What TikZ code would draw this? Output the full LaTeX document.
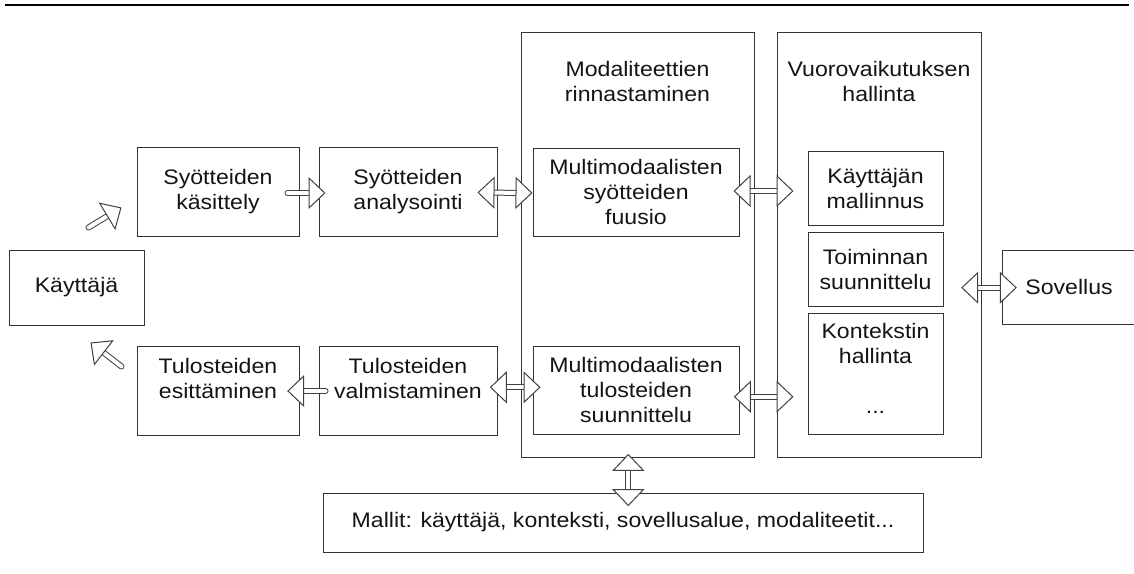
\documentclass[tikz,border=0pt]{standalone}
\usepackage{fontspec}
\setmainfont{Liberation Sans}[FakeStretch=1.1]
\usetikzlibrary{arrows.meta}

\tikzset{
  lbl/.style={inner sep=0pt, align=center, text=black!92,
              font=\fontsize{21}{25}\selectfont},
  box/.style={lbl, draw=black!80, line width=1pt},
  hollow/.style={draw=black!75, line width=1pt, double=white,
                 double distance=4pt, line cap=round},
  fwd/.style={hollow, -{Triangle[fill=white, length=17pt, width=32pt, line width=1pt]}},
  both/.style={hollow, {Triangle[fill=white, length=17pt, width=32pt, line width=1pt]}-{Triangle[fill=white, length=17pt, width=32pt, line width=1pt]}},
}

\begin{document}
\begin{tikzpicture}[x=1pt, y=-1pt]
  \clip (0,0) rectangle (1134,573);

  % header rule
  \draw[line width=2pt, black] (5,5) -- (1129,5);

  % user
  \node[box, minimum width=135pt, minimum height=75pt] (usr) at (76.5,287.5) {Käyttäjä};

  % input chain
  \node[box, minimum width=162pt, minimum height=89pt] (kas) at (218,191.5) {Syötteiden\\käsittely};
  \node[box, minimum width=178pt, minimum height=89pt] (ana) at (408,191.5) {Syötteiden\\analysointi};

  % output chain
  \node[box, minimum width=162pt, minimum height=89pt] (esi) at (218,390.5) {};
  \node[lbl] (esi-t) at ([yshift=12.5pt]esi.center) {Tulosteiden\\esittäminen};
  \node[box, minimum width=178pt, minimum height=89pt] (val) at (408,390.5) {};
  \node[lbl] (val-t) at ([yshift=12.5pt]val.center) {Tulosteiden\\valmistaminen};

  % modality integration
  \node[box, minimum width=233pt, minimum height=425pt] (mod) at (637.5,244.5) {};
  \node[lbl] (mod-t) at (637.5,81) {Modaliteettien\\rinnastaminen};
  \node[box, minimum width=206pt, minimum height=88pt] (fus) at (636,192) {Multimodaalisten\\syötteiden\\fuusio};
  \node[box, minimum width=206pt, minimum height=88pt] (sun) at (636,390) {Multimodaalisten\\tulosteiden\\suunnittelu};

  % interaction management
  \node[box, minimum width=204pt, minimum height=425pt] (vuo) at (879,244.5) {};
  \node[lbl] (vuo-t) at (879,81) {Vuorovaikutuksen\\hallinta};
  \node[box, minimum width=135pt, minimum height=74pt] (kmal) at (875.5,188) {Käyttäjän\\mallinnus};
  \node[box, minimum width=135pt, minimum height=74pt] (toim) at (875.5,269) {Toiminnan\\suunnittelu};
  \node[box, minimum width=135pt, minimum height=121pt] (kont) at (875.5,373.5) {};
  \node[lbl] (kont-t) at ([yshift=5.5pt]kont.center) {Kontekstin\\hallinta\\[25pt]...};

  % application
  \node[box, minimum width=134pt, minimum height=74pt] (sov) at (1069,287) {Sovellus};

  % models
  \node[box, minimum width=600pt, minimum height=59pt] (mal) at (623,522.5) {Mallit: käyttäjä, konteksti, sovellusalue, modaliteetit...};

  % connectors
  \draw[fwd] ([shift={(-56pt,22pt)}]usr.north east) -- ([shift={(-15pt,29pt)}]kas.south west);
  \draw[fwd] ([shift={(-15pt,24pt)}]esi.west) -- ([shift={(-54pt,-17pt)}]usr.south east);
  \draw[fwd] ([shift={(-12pt,-1.5pt)}]kas.east) -- ([shift={(7pt,-1.5pt)}]ana.west);
  \draw[both] ([shift={(-20pt,-1pt)}]ana.east) -- ([shift={(0pt,-1pt)}]fus.west);
  \draw[both] ([shift={(-6pt,1pt)}]fus.east) -- ([shift={(17pt,53.5pt)}]vuo.west);
  \draw[fwd] ([shift={(7pt,-0.5pt)}]val.west) -- ([shift={(-12.3pt,-0.5pt)}]esi.east);
  \draw[both] ([shift={(-7.7pt,3.2pt)}]val.east) -- ([shift={(8pt,2.7pt)}]sun.west);
  \draw[both] ([shift={(-5.7pt,-6.7pt)}]sun.east) -- ([shift={(17pt,-152.2pt)}]vuo.west);
  \draw[both] ([shift={(-20.3pt,-43.2pt)}]vuo.east) -- ([shift={(15.3pt,-0.7pt)}]sov.west);
  \draw[both] ([shift={(-9.2pt,3.7pt)}]mod.south) -- ([shift={(5.3pt,-13.7pt)}]mal.north);
\end{tikzpicture}
\end{document}
